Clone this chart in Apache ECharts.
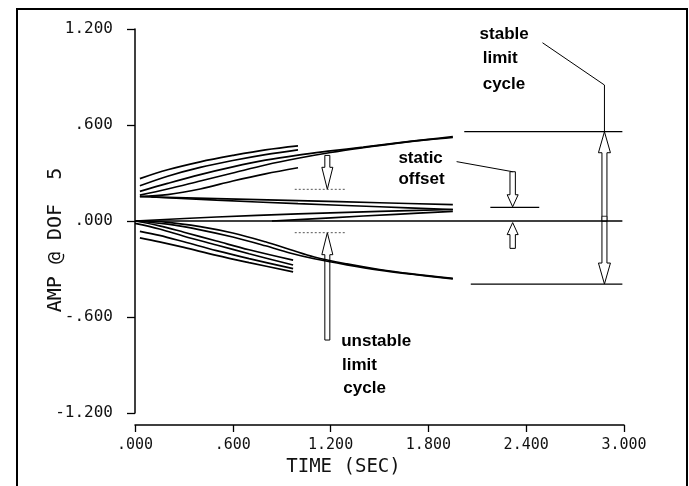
<!DOCTYPE html>
<html><head><meta charset="utf-8">
<script src="https://cdn.jsdelivr.net/npm/echarts@6/dist/echarts.min.js"></script>
<style>html,body{margin:0;padding:0;background:#fff}#c{width:689px;height:486px}</style>
</head><body><div id="c"></div>
<script>
// ---------- tick labels ----------
const xTickLabels = {'0':'.000','0.6':'.600','1.2':'1.200','1.8':'1.800','2.4':'2.400','3':'3.000'};
const yTickLabels = {'-1.2':'-1.200','-0.6':'-.600','0':'.000','0.6':'.600','1.2':'1.200'};
const xTitle = 'TIME (SEC)';
const yTitle = 'AMP @ DOF  5';

// ---------- simulated responses [time, amplitude] ----------
const upperShort1 = [[0.03,0.265],[0.2,0.32],[0.4,0.37],[0.6,0.41],[0.8,0.445],[1.0,0.47]];
const upperShort2 = [[0.03,0.22],[0.2,0.28],[0.4,0.335],[0.6,0.378],[0.8,0.415],[1.0,0.445]];
const upperLongA  = [[0.03,0.185],[0.2,0.235],[0.4,0.29],[0.6,0.338],[0.8,0.38],[1.0,0.412],[1.2,0.438],[1.4,0.462],[1.6,0.487],[1.8,0.51],[1.95,0.527]];
const upperLongB  = [[0.03,0.162],[0.2,0.2],[0.4,0.25],[0.6,0.30],[0.8,0.35],[1.0,0.392],[1.2,0.428],[1.4,0.458],[1.6,0.485],[1.8,0.508],[1.95,0.522]];
const upperShort3 = [[0.03,0.153],[0.2,0.165],[0.4,0.2],[0.6,0.25],[0.8,0.295],[1.0,0.333]];
const offsetDown1 = [[0.03,0.152],[0.5,0.14],[1.0,0.127],[1.5,0.114],[1.95,0.102]];
const offsetDown2 = [[0.1,0.15],[0.5,0.13],[1.0,0.108],[1.5,0.089],[1.95,0.072]];
const offsetUp1   = [[0.0,0.0],[0.5,0.025],[1.0,0.045],[1.5,0.06],[1.95,0.072]];
const offsetUp2   = [[0.84,0.0],[1.2,0.02],[1.6,0.042],[1.95,0.06]];
const lowerLongA  = [[0,0],[0.2,-0.008],[0.4,-0.035],[0.6,-0.075],[0.8,-0.13],[0.95,-0.178],[1.1,-0.225],[1.3,-0.268],[1.5,-0.303],[1.7,-0.33],[1.95,-0.358]];
const lowerLongB  = [[0,0],[0.2,-0.02],[0.4,-0.055],[0.6,-0.1],[0.8,-0.155],[0.95,-0.2],[1.1,-0.236],[1.3,-0.274],[1.5,-0.307],[1.7,-0.333],[1.95,-0.362]];
const lowerShort1 = [[0,0],[0.15,-0.03],[0.3,-0.07],[0.5,-0.125],[0.7,-0.18],[0.97,-0.245]];
const lowerShort2 = [[0,-0.015],[0.15,-0.05],[0.3,-0.095],[0.5,-0.15],[0.7,-0.205],[0.97,-0.275]];
const lowerShort3 = [[0.03,-0.065],[0.15,-0.09],[0.3,-0.13],[0.5,-0.185],[0.7,-0.235],[0.97,-0.298]];
const lowerShort4 = [[0.03,-0.105],[0.15,-0.13],[0.3,-0.165],[0.5,-0.215],[0.7,-0.26],[0.97,-0.318]];

// ---------- annotation geometry (data units) ----------
const zeroLine      = [[0,0],[2.99,0]];
const stableUpper   = [[2.02,0.558],[2.99,0.558]];
const stableLower   = [[2.06,-0.394],[2.99,-0.394]];
const offsetLevel   = [[2.18,0.085],[2.48,0.085]];
const unstableUpper = [[0.98,0.198],[1.29,0.198]];
const unstableLower = [[0.98,-0.073],[1.29,-0.073]];
const stablePointer = [[2.50,1.114],[2.88,0.85],[2.88,0.558]];
const offsetPointer = [[1.973,0.371],[2.317,0.308]];
// arrows: [time, from, to]
const unstableArrows = [[1.18,0.41,0.198],[1.18,-0.744,-0.073]];
const offsetArrows   = [[2.317,0.308,0.089],[2.317,-0.171,-0.01]];
const stableArrow    = [[2.88,0.558,-0.394]];
const crossMark      = [[2.88,0.014]];
// notes: [time, amp, text]
const notes = [[2.114,1.169,'stable'],[2.133,1.019,'limit'],[2.133,0.856,'cycle'],
               [1.616,0.394,'static'],[1.616,0.2625,'offset'],
               [1.265,-0.754,'unstable'],[1.270,-0.90,'limit'],[1.278,-1.046,'cycle']];

const curves = [upperShort1,upperShort2,upperLongA,upperLongB,upperShort3,offsetDown1,offsetDown2,
  offsetUp1,offsetUp2,lowerLongA,lowerLongB,lowerShort1,lowerShort2,lowerShort3,lowerShort4];

function key(v){ return String(Math.round(v*10)/10); }

function arrowRender(headLen, headHalf, shaftHalf){
  return function(params, api){
    const t = api.value(0), a = api.value(1), b = api.value(2);
    const p1 = api.coord([t,a]), p2 = api.coord([t,b]);
    const x = p1[0], y1 = p1[1], y2 = p2[1];
    const dir = y2 > y1 ? 1 : -1;
    const yb = y2 - dir*headLen;
    return {type:'polygon', shape:{points:[[x-shaftHalf,y1],[x+shaftHalf,y1],[x+shaftHalf,yb],[x+headHalf,yb],[x,y2],[x-headHalf,yb],[x-shaftHalf,yb]]},
      style:{fill:'#fff', stroke:'#000', lineWidth:1}};
  };
}
function doubleArrowRender(params, api){
  const t = api.value(0), a = api.value(1), b = api.value(2);
  const p1 = api.coord([t,a]), p2 = api.coord([t,b]);
  const x = p1[0], y1 = p1[1], y2 = p2[1];
  const hl = 21, hh = 6, sh = 2.5;
  return {type:'polygon', shape:{points:[[x,y1],[x+hh,y1+hl],[x+sh,y1+hl],[x+sh,y2-hl],[x+hh,y2-hl],[x,y2],[x-hh,y2-hl],[x-sh,y2-hl],[x-sh,y1+hl],[x-hh,y1+hl]]},
    style:{fill:'#fff', stroke:'#000', lineWidth:1}};
}

const monoFont = '"DejaVu Sans Mono", "Liberation Mono", monospace';
const lineStyle = {color:'#000', width:1.7};
const series = [];
curves.forEach(c => series.push({type:'line', data:c, showSymbol:false, smooth:0.35, lineStyle:lineStyle, silent:true}));
[zeroLine, stableUpper, stableLower, offsetLevel].forEach(c => series.push({type:'line', data:c, showSymbol:false, lineStyle:{color:'#000', width:1.3}}));
[unstableUpper, unstableLower].forEach(c => series.push({type:'line', data:c, showSymbol:false, lineStyle:{color:'#555', width:1, type:[2,2]}}));
[stablePointer, offsetPointer].forEach(c => series.push({type:'line', data:c, showSymbol:false, lineStyle:{color:'#000', width:1}}));
series.push({type:'custom', data:unstableArrows, renderItem:arrowRender(22,5.5,2.5), clip:false});
series.push({type:'custom', data:offsetArrows, renderItem:arrowRender(12,5.5,2.7), clip:false});
series.push({type:'custom', data:stableArrow, renderItem:doubleArrowRender, clip:false});
series.push({type:'scatter', data:crossMark, symbol:'rect', symbolSize:5, itemStyle:{color:'#fff', borderColor:'#000', borderWidth:1}});
series.push({type:'custom', data:notes, clip:false, renderItem:function(params, api){
  const n = notes[params.dataIndex];
  const p = api.coord([n[0], n[1]]);
  return {type:'text', x:p[0], y:p[1], style:{text:n[2], fill:'#000', font:'bold 17px "Liberation Sans", Arial, sans-serif', align:'left', verticalAlign:'middle'}};
}});

const chart = echarts.init(document.getElementById('c'), null, {renderer:'canvas'});
chart.setOption({
  animation:false,
  backgroundColor:'#fff',
  grid:{left:135, right:65, top:29, bottom:73},
  xAxis:{type:'value', min:0, max:3, interval:0.6, offset:12,
    axisLine:{onZero:false, lineStyle:{color:'#000', width:1.5}},
    axisTick:{show:true, length:7, lineStyle:{color:'#000', width:1.3}},
    splitLine:{show:false},
    axisLabel:{color:'#111', fontFamily:monoFont, fontSize:15, margin:13, formatter:v => xTickLabels[key(v)]},
    name:xTitle, nameLocation:'middle', nameGap:30,
    nameTextStyle:{color:'#111', fontFamily:monoFont, fontSize:19, padding:[0,72,0,0]}},
  yAxis:{type:'value', min:-1.2, max:1.2, interval:0.6,
    axisLine:{onZero:false, lineStyle:{color:'#000', width:1.5}},
    axisTick:{show:true, length:8, lineStyle:{color:'#000', width:1.3}},
    splitLine:{show:false},
    axisLabel:{color:'#111', fontFamily:monoFont, fontSize:16, margin:22, formatter:v => yTickLabels[key(v)]}},
  graphic:[
    {type:'rect', shape:{x:17, y:9, width:670, height:495}, style:{fill:'none', stroke:'#000', lineWidth:2}, silent:true},
    {type:'text', x:56, y:240, rotation:Math.PI/2, style:{text:yTitle, fill:'#111', font:'20px ' + monoFont, align:'center', verticalAlign:'middle'}}
  ],
  series:series
});
</script></body></html>
